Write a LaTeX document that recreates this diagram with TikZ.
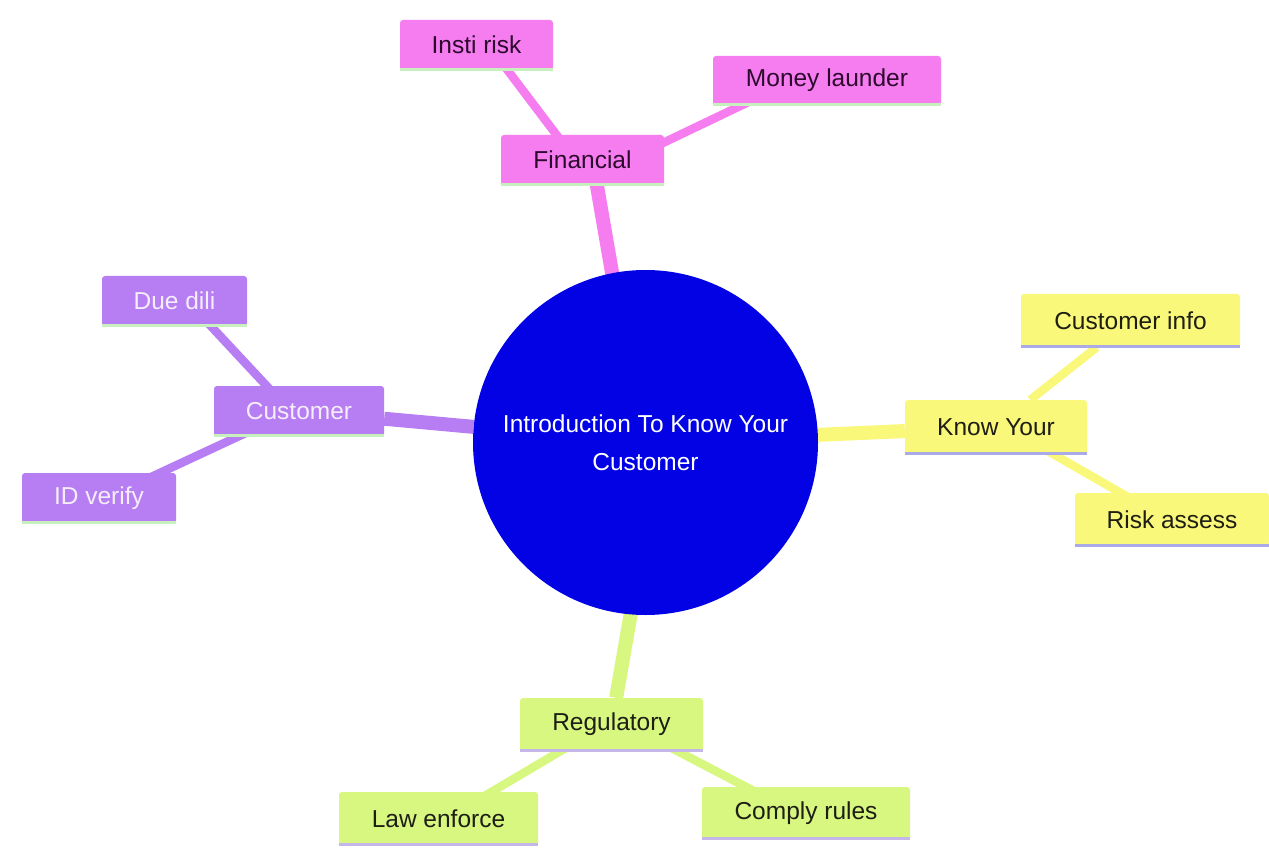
\documentclass[tikz,border=0pt]{standalone}
\usepackage{fontspec}
\setmainfont{Liberation Sans}
\usetikzlibrary{calc,backgrounds}
\definecolor{cblue}{RGB}{2,2,228}
\definecolor{cpink}{RGB}{245,125,240}
\definecolor{cpurple}{RGB}{183,125,243}
\definecolor{cyellow}{RGB}{250,248,122}
\definecolor{cgreen}{RGB}{215,247,128}
\definecolor{ulgreen}{RGB}{200,240,190}
\definecolor{ulblue}{RGB}{170,170,232}
\definecolor{ullav}{RGB}{196,182,232}
\definecolor{tpink}{RGB}{45,10,45}
\definecolor{tpurple}{RGB}{245,238,250}
\definecolor{tdark}{RGB}{30,30,20}
\tikzset{
  box/.style={rounded corners=3pt, minimum height=50pt, inner sep=0pt,
    font=\fontsize{24.5}{30}\selectfont},
  pinkbox/.style={box, fill=cpink, text=tpink},
  purplebox/.style={box, fill=cpurple, text=tpurple},
  yellowbox/.style={box, fill=cyellow, text=tdark, minimum height=53pt},
  greenbox/.style={box, fill=cgreen, text=tdark, minimum height=53pt},
  mainedge/.style={line width=14pt},
  subedge/.style={line width=8.5pt},
}
\begin{document}
\begin{tikzpicture}[x=1pt,y=-1pt]
\useasboundingbox (0,0) rectangle (1269,850);
% center
\node[circle, fill=cblue, minimum size=345pt, inner sep=0pt, text=white,
  align=center, font=\fontsize{24.5}{38}\selectfont] (center) at (645.5,442.5)
  {Introduction To Know Your\\Customer};
% Financial branch
\node[pinkbox, minimum width=163pt] (fin) at (582.5,160) {Financial};
\node[pinkbox, minimum width=153pt] (insti) at (476.5,45) {Insti risk};
\node[pinkbox, minimum width=228pt, minimum height=49pt] (money) at (827,80.5) {Money launder};
% Customer branch
\node[purplebox, minimum width=170pt] (cust) at (299,411) {Customer};
\node[purplebox, minimum width=145pt] (due) at (174.5,301) {Due dili};
\node[purplebox, minimum width=154pt] (idv) at (99,498) {ID verify};
% Know Your branch
\node[yellowbox, minimum width=182pt, minimum height=54pt] (know) at (996,427) {Know Your};
\node[yellowbox, minimum width=219pt] (cinfo) at (1130.5,320.5) {Customer info};
\node[yellowbox, minimum width=194pt] (risk) at (1172,519.5) {Risk assess};
% Regulatory branch
\node[greenbox, minimum width=183pt] (reg) at (611.5,724.5) {Regulatory};
\node[greenbox, minimum width=199pt] (law) at (438.5,818.5) {Law enforce};
\node[greenbox, minimum width=208pt, minimum height=52pt] (comply) at (806,813) {Comply rules};
% underlines
\foreach \n/\c in {fin/ulgreen,insti/ulgreen,money/ulgreen,cust/ulgreen,due/ulgreen,idv/ulgreen,
  know/ulblue,cinfo/ulblue,risk/ulblue,reg/ullav,law/ullav,comply/ullav}
  \draw[\c, line width=3pt] ([yshift=0.5pt]\n.south west) -- ([yshift=0.5pt]\n.south east);
% edges
\begin{scope}[on background layer]
\fill[white] (0,0) rectangle (1269,850);
\draw[cpink, mainedge] ($(fin)+(10,0)$) -- ($(center)+(-4,0)$);
\draw[cpink, subedge] ($(insti)+(12,0)$) -- ($(fin)+(-7,0)$);
\draw[cpink, subedge] ($(money)+(-67,16)$) -- ($(fin)+(72,-13)$);
\draw[cpurple, mainedge] (cust) -- (center);
\draw[cpurple, subedge] ($(due)+(13,0)$) -- ($(cust)+(-9,0)$);
\draw[cpurple, subedge] ($(idv)+(7,0)$) -- ($(cust)+(-6,0)$);
\draw[cyellow, mainedge] (know) -- (center);
\draw[cyellow, subedge] (cinfo) -- (know);
\draw[cyellow, subedge] ($(know)+(10,0)$) -- ($(risk)+(-5,0)$);
\draw[cgreen, mainedge] (reg) -- ($(center)+(15,0)$);
\draw[cgreen, subedge] ($(reg)+(-6,0)$) -- ($(law)+(8,0)$);
\draw[cgreen, subedge] ($(reg)+(15,0)$) -- ($(comply)+(-10,0)$);
\end{scope}
\end{tikzpicture}
\end{document}
